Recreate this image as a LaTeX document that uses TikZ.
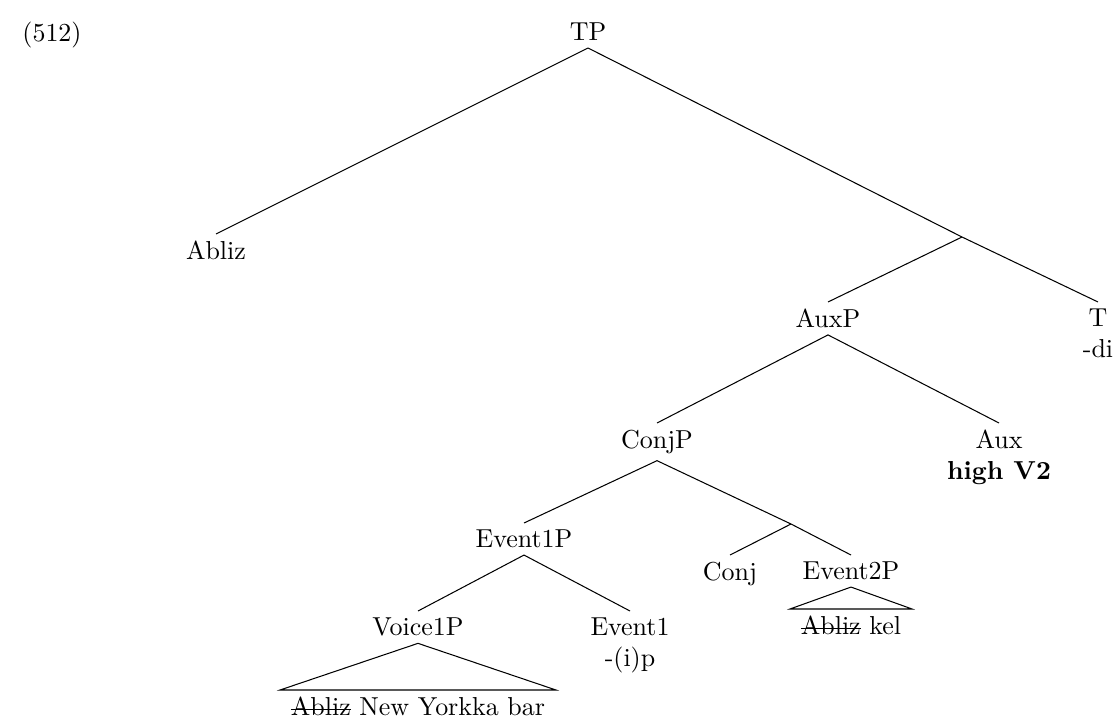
\documentclass[tikz,border=0pt]{standalone}
\tikzset{
  cat/.style={inner sep=2.5pt, align=center, anchor=north},
  roofleaf/.style={inner xsep=4pt, inner ysep=2.5pt, anchor=north},
  branch/.style={draw=black, line width=0.4pt},
  roof/.style={draw=black, line width=0.4pt, line join=miter}
}
\newcommand{\gone}[1]{\setbox0\hbox{#1}\rlap{\rule[0.5ex]{\wd0}{0.4pt}}\box0\relax}

\begin{document}
\begin{tikzpicture}[x=0.385pt,y=-0.385pt]
  \useasboundingbox (0,0) rectangle (1117,717);
  \node (exnum) at (52,35) {(512)};

  % upper part
  \node[cat,anchor=south] (tp) at (588,48) {TP};
  \node[cat] (abliz) at (216,234) {Abliz};
  \coordinate (tbar) at (962,237);
  \node[cat] (t) at (1098,302) {T\\-di};
  \node[cat] (auxp) at (828,302) {AuxP};
  \node[cat] (conjp) at (657,423) {ConjP};
  \node[cat] (aux) at (999,423) {Aux\\\textbf{high V2}};

  % conjunction
  \node[cat] (ev1p) at (524,523) {Event1P};
  \coordinate (conjbar) at (791,524);
  \node[cat] (conj) at (730,555) {Conj};
  \node[cat] (ev2p) at (851,555) {Event2P};
  \node[roofleaf] (ev2leaf) at (851,609) {\gone{Abliz} kel};

  \node[cat] (voicep) at (418,611) {Voice1P};
  \node[cat] (ev1) at (630,611) {Event1\\-(i)p};
  \node[roofleaf] (voiceleaf) at (418,690) {\gone{Abliz} New Yorkka bar};

  % branches
  \draw[branch] (tp.south) -- (abliz.north);
  \draw[branch] (tp.south) -- (tbar) -- (t.north);
  \draw[branch] (tbar) -- (auxp.north);
  \draw[branch] (auxp.south) -- (conjp.north);
  \draw[branch] (auxp.south) -- (aux.north);
  \draw[branch] (conjp.south) -- (ev1p.north);
  \draw[branch] (conjp.south) -- (conjbar) -- (ev2p.north);
  \draw[branch] (conjbar) -- (conj.north);
  \draw[branch] (ev1p.south) -- (voicep.north);
  \draw[branch] (ev1p.south) -- (ev1.north);

  % roofs
  \draw[roof] (voicep.south) -- (voiceleaf.north west) -- (voiceleaf.north east) -- cycle;
  \draw[roof] (ev2p.south) -- (ev2leaf.north west) -- (ev2leaf.north east) -- cycle;
\end{tikzpicture}
\end{document}
